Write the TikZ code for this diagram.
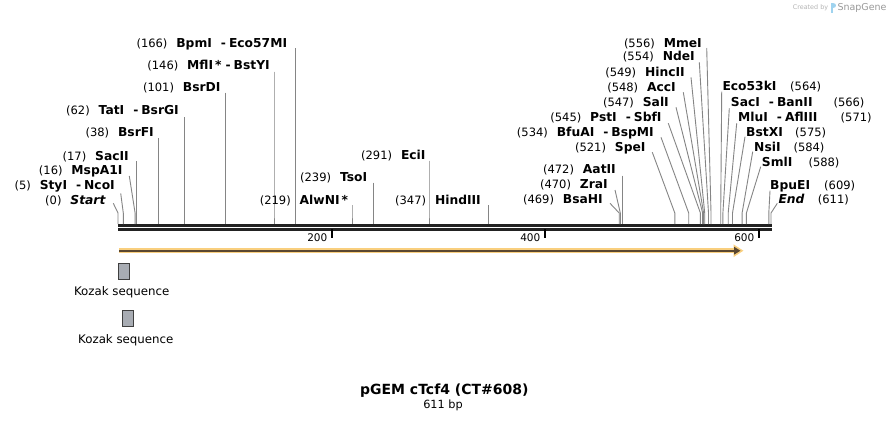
\documentclass[tikz,border=0pt]{standalone}
\usepackage{fontspec}
\setmainfont{DejaVu Sans}
\usetikzlibrary{arrows.meta}
\definecolor{leadgray}{HTML}{858585}
\definecolor{bbdark}{HTML}{222222}
\definecolor{halo}{HTML}{F9CF7E}
\definecolor{shaft}{HTML}{5A4730}
\definecolor{kozfill}{HTML}{A8ACB3}
\definecolor{kozdraw}{HTML}{3F3F3F}
\definecolor{sgray}{HTML}{B4B4B4}
\definecolor{sblue}{HTML}{9FD3EF}
\newcommand\Dsep{\hspace{9pt}-\hspace{3pt}}
% left-type label: id, number, names, right x, centre y, top x, top y, site x
\newcommand\siteL[8]{%
  \node[namel, anchor=base east] (#1n) at (#4,{#5+4.4}) {#3};
  \node[numl, anchor=base east] (#1p) at ([xshift=-8.5pt]#1n.base west) {(#2)};
  \coordinate (#1t) at (#6,#7);
  \coordinate (#1b) at (#8,213);
  \coordinate (#1s) at (#8,224);
  \draw[leader] (#1t) -- (#1b) -- (#1s);
}
% right-type label: id, number, names, left x, centre y, number left x, top x, top y, site x
\newcommand\siteR[9]{%
  \node[namel, anchor=base west] (#1n) at (#4,{#5+4.4}) {#3};
  \node[numl, anchor=base west] (#1p) at (#6,{#5+4.4}) {(#2)};
  \coordinate (#1t) at (#7,#8);
  \coordinate (#1b) at (#9,213);
  \coordinate (#1s) at (#9,224);
  \draw[leader] (#1t) -- (#1b) -- (#1s);
}
\begin{document}
\begin{tikzpicture}[x=1pt,y=-1pt,
  leader/.style={draw=leadgray, line width=0.9pt},
  namel/.style={inner sep=0pt, font=\bfseries\fontsize{12.3}{14}\selectfont},
  numl/.style={inner sep=0pt, font=\fontsize{11.5}{13}\selectfont},
  tickmark/.style={draw=black, line width=2pt},
  ticklab/.style={inner sep=0pt, font=\fontsize{10.5}{12}\selectfont},
  kozbox/.style={draw=kozdraw, fill=kozfill, line width=0.8pt, minimum width=11pt, minimum height=16pt, inner sep=0pt},
  kozlab/.style={inner sep=0pt, font=\fontsize{11.8}{13}\selectfont}]
\useasboundingbox (0,0) rectangle (890,421);
\fill[white] (0,0) rectangle (890,421);

% backbone
\coordinate (bbL1) at (118,225.5);
\coordinate (bbR1) at (771.5,225.5);
\coordinate (bbL2) at (118,229.5);
\coordinate (bbR2) at (771.5,229.5);
\draw[bbdark, line width=3pt] (bbL1) -- (bbR1);
\draw[bbdark, line width=2.4pt] (bbL2) -- (bbR2);

% ticks
\coordinate (t2a) at (331.5,229); \coordinate (t2b) at (331.5,237.5);
\coordinate (t4a) at (544.5,229); \coordinate (t4b) at (544.5,237.5);
\coordinate (t6a) at (758.5,229); \coordinate (t6b) at (758.5,237.5);
\draw[tickmark] (t2a) -- (t2b);
\draw[tickmark] (t4a) -- (t4b);
\draw[tickmark] (t6a) -- (t6b);
\node[ticklab, anchor=east] (l200) at (327.5,237.3) {200};
\node[ticklab, anchor=east] (l400) at (540.5,237.3) {400};
\node[ticklab, anchor=east] (l600) at (754.5,237.3) {600};

% left group
\siteL{a}{166}{BpmI\Dsep Eco57MI}{287.3}{42.7}{295.4}{48}{295.4}
\siteL{b}{146}{MflI\,*\hspace{4pt}-\hspace{3pt}BstYI}{270}{65}{274}{71.7}{274}
\siteL{c}{101}{BsrDI}{220.7}{86.7}{225.9}{92.7}{225.9}
\siteL{d}{62}{TatI\Dsep BsrGI}{179}{110}{184.3}{117.3}{184.3}
\siteL{e}{38}{BsrFI}{154}{131.7}{158.6}{138.3}{158.6}
\siteL{f}{17}{SacII}{129}{155.7}{136.2}{161}{136.2}
\siteL{g}{16}{MspA1I}{122.7}{170}{129.3}{176}{135.1}
\siteL{h}{5}{StyI\Dsep NcoI}{115}{185}{120.7}{193.3}{123.3}
\siteL{i}{0}{\textit{Start}}{106}{200}{113.3}{203.3}{118}
% middle
\siteL{j}{219}{AlwNI\,*}{348.3}{200}{352}{205}{352}
\siteL{k}{239}{TsoI}{367.3}{176.7}{373.4}{182.7}{373.4}
\siteL{l}{291}{EciI}{425.7}{155}{429}{160.7}{429}
\siteL{m}{347}{HindIII}{481}{200}{488.8}{205}{488.8}
% right fan, labels to the left
\siteL{n}{556}{MmeI}{702}{42.7}{706.7}{48}{711}
\siteL{o}{554}{NdeI}{695}{56}{699.3}{62.3}{708.5}
\siteL{p}{549}{HincII}{685}{71.7}{691}{77.3}{704.7}
\siteL{q}{548}{AccI}{676}{86.7}{683.3}{92.3}{703.6}
\siteL{r}{547}{SalI}{669}{101.7}{676}{107.3}{702.6}
\siteL{s}{545}{PstI\Dsep SbfI}{661.7}{116.7}{668.3}{123.3}{700.4}
\siteL{t}{534}{BfuAI\Dsep BspMI}{654}{131.7}{661}{137.3}{688.7}
\siteL{u}{521}{SpeI}{645.7}{146.7}{652.3}{152.3}{674.8}
\siteL{v}{472}{AatII}{616}{169.3}{622.4}{175.7}{622.4}
\siteL{w}{470}{ZraI}{608}{184}{615}{190}{620.3}
\siteL{x}{469}{BsaHI}{603}{199.3}{610}{203.3}{619.2}
% right fan, labels to the right
\siteR{A}{564}{Eco53kI}{722.3}{86}{790}{721.7}{91.7}{720.7}
\siteR{B}{566}{SacI\Dsep BanII}{730.7}{102.3}{833.3}{729.3}{108.3}{722.9}
\siteR{C}{571}{MluI\Dsep AflIII}{738}{116.7}{840.5}{736.7}{123.3}{728.2}
\siteR{D}{575}{BstXI}{746}{131.7}{795}{745}{136.7}{732.5}
\siteR{E}{584}{NsiI}{754}{146.7}{793.3}{752.7}{151.7}{742.1}
\siteR{F}{588}{SmlI}{761.7}{161.7}{808.3}{760.7}{166.7}{746.4}
\siteR{G}{609}{BpuEI}{770}{185}{824}{770}{190.7}{768.8}
\siteR{H}{611}{\textit{End}}{778.3}{199.3}{817.7}{777.3}{203.3}{771}

% ORF arrow
\coordinate (orfS) at (119,250.7);
\coordinate (orfE) at (743.5,250.7);
\coordinate (orfE2) at (740.5,250.7);
\draw[halo, line width=5pt, -{Triangle[length=10pt,width=12pt]}] (orfS) -- (orfE);
\draw[shaft, line width=2pt, -{Triangle[length=6.5pt,width=7.5pt]}] (orfS) -- (orfE2);

% Kozak features
\node[kozbox] (k1) at (123.8,271.3) {};
\node[kozlab] (k1l) at (121.7,292.3) {Kozak sequence};
\node[kozbox] (k2) at (128,318.7) {};
\node[kozlab] (k2l) at (125.8,340) {Kozak sequence};

% title
\node[inner sep=0pt, font=\bfseries\fontsize{14}{16}\selectfont] (title) at (444.3,390.7) {pGEM cTcf4 (CT\#608)};
\node[inner sep=0pt, font=\fontsize{11.3}{13}\selectfont] (len) at (443,405) {611 bp};

% credit
\node[inner sep=0pt, anchor=west, text=sgray, font=\fontsize{6.4}{8}\selectfont] (cr1) at (792.7,7.5) {Created by};
\fill[sblue] (831,2.5) rectangle (833,12.5);
\fill[sblue] (833,2.5) .. controls (837,2.5) and (837,8) .. (833,8) -- cycle;
\node[inner sep=0pt, anchor=west, text=sgray!85!black, font=\fontsize{9.5}{11}\selectfont] (cr2) at (837.3,7.5) {SnapGene};
\end{tikzpicture}
\end{document}
